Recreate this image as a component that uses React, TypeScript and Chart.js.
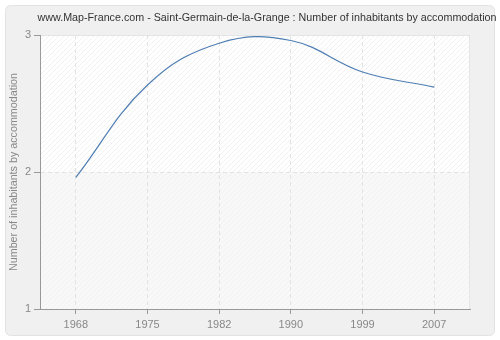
import React, { useEffect, useRef } from "react";
import { Chart, registerables } from "chart.js";

Chart.register(...registerables);

const titleText =
  "www.Map-France.com - Saint-Germain-de-la-Grange : Number of inhabitants by accommodation";
const yAxisTitle = "Number of inhabitants by accommodation";
const years = ["1968", "1975", "1982", "1990", "1999", "2007"];
const inhabitantsPerHome = [1.96, 2.635, 2.94, 2.96, 2.73, 2.62];
const yTicks = [1, 2, 3];

const FONT = "'Liberation Sans', Arial, sans-serif";

function makeHatch(bg: string, line: string): CanvasPattern | string {
  const c = document.createElement("canvas");
  c.width = 5;
  c.height = 5;
  const g = c.getContext("2d");
  if (!g) return bg;
  g.fillStyle = bg;
  g.fillRect(0, 0, 5, 5);
  g.strokeStyle = line;
  g.lineWidth = 1;
  g.beginPath();
  g.moveTo(-1, 6);
  g.lineTo(6, -1);
  g.moveTo(-1, 1);
  g.lineTo(1, -1);
  g.moveTo(4, 6);
  g.lineTo(6, 4);
  g.stroke();
  const p = g.createPattern(c, "repeat");
  return p || bg;
}

function roundRect(ctx: CanvasRenderingContext2D, x: number, y: number, w: number, h: number, r: number) {
  ctx.beginPath();
  ctx.moveTo(x + r, y);
  ctx.lineTo(x + w - r, y);
  ctx.quadraticCurveTo(x + w, y, x + w, y + r);
  ctx.lineTo(x + w, y + h - r);
  ctx.quadraticCurveTo(x + w, y + h, x + w - r, y + h);
  ctx.lineTo(x + r, y + h);
  ctx.quadraticCurveTo(x, y + h, x, y + h - r);
  ctx.lineTo(x, y + r);
  ctx.quadraticCurveTo(x, y, x + r, y);
  ctx.closePath();
}

const backgroundPlugin = {
  id: "bgPanel",
  beforeDraw(chart: any) {
    const { ctx, chartArea, scales } = chart;
    ctx.save();
    ctx.fillStyle = "#ffffff";
    ctx.fillRect(0, 0, chart.width, chart.height);
    roundRect(ctx, 5.5, 5.5, 489, 330, 6);
    ctx.fillStyle = "#f0f0f0";
    ctx.fill();
    ctx.strokeStyle = "#e2e2e2";
    ctx.lineWidth = 1;
    ctx.stroke();

    const { left, right, top, bottom } = chartArea;
    const yMid = scales.y.getPixelForValue(2);
    ctx.fillStyle = makeHatch("#ffffff", "#f1f1f1");
    ctx.fillRect(left, top, right - left, yMid - top);
    ctx.fillStyle = makeHatch("#f8f8f8", "#f2f2f2");
    ctx.fillRect(left, yMid, right - left, bottom - yMid);

    ctx.strokeStyle = "#e6e6e6";
    ctx.beginPath();
    ctx.moveTo(left, top + 0.5);
    ctx.lineTo(right - 0.5, top + 0.5);
    ctx.lineTo(right - 0.5, bottom);
    ctx.stroke();
    ctx.restore();
  },
  afterDraw(chart: any) {
    const { ctx, chartArea } = chart;
    ctx.save();
    ctx.fillStyle = "#333333";
    ctx.font = `11px ${FONT}`;
    ctx.textAlign = "center";
    ctx.textBaseline = "middle";
    ctx.fillText(titleText, 267, 18, 459);

    ctx.fillStyle = "#888888";
    ctx.translate(14, (chartArea.top + chartArea.bottom) / 2);
    ctx.rotate(-Math.PI / 2);
    ctx.fillText(yAxisTitle, 0, 0, 198);
    ctx.restore();
  },
};

export default function App() {
  const ref = useRef<HTMLCanvasElement | null>(null);

  useEffect(() => {
    document.body.style.margin = "0";
    const canvas = ref.current;
    if (!canvas) return;
    const chart = new Chart(canvas, {
      type: "line",
      data: {
        labels: years,
        datasets: [
          {
            data: inhabitantsPerHome,
            borderColor: "#4f7eb3",
            borderWidth: 1.2,
            pointRadius: 0,
            tension: 0.4,
            fill: false,
          },
        ],
      },
      options: {
        animation: false,
        responsive: false,
        events: [],
        elements: { line: { capBezierPoints: false } },
        layout: { padding: { top: 35, right: 30, left: 0, bottom: 0 } },
        plugins: {
          legend: { display: false },
          title: { display: false },
          tooltip: { enabled: false },
        },
        scales: {
          x: {
            type: "category",
            offset: true,
            afterFit(scale: any) {
              scale.height = 31;
            },
            grid: {
              offset: false,
              color: "#e3e3e3",
              lineWidth: 1,
              drawTicks: true,
              tickLength: 5,
              tickColor: "#999999",
              tickBorderDash: [],
            },
            border: { display: true, color: "#999999", width: 1, dash: [4, 3] },
            ticks: {
              color: "#888888",
              font: { family: FONT, size: 11 },
              padding: 4,
              maxRotation: 0,
            },
          },
          y: {
            type: "linear",
            min: 1,
            max: 3,
            afterFit(scale: any) {
              scale.width = 40;
            },
            afterBuildTicks(scale: any) {
              scale.ticks = yTicks.map((v) => ({ value: v }));
            },
            grid: {
              color: "#e3e3e3",
              lineWidth: 1,
              drawTicks: true,
              tickLength: 6,
              tickColor: "#999999",
              tickBorderDash: [],
            },
            border: { display: true, color: "#999999", width: 1, dash: [4, 3] },
            ticks: {
              color: "#888888",
              font: { family: FONT, size: 11 },
              padding: 3,
            },
          },
        },
      },
      plugins: [backgroundPlugin],
    } as any);
    return () => chart.destroy();
  }, []);

  return <canvas ref={ref} width={500} height={340} style={{ display: "block" }} />;
}
